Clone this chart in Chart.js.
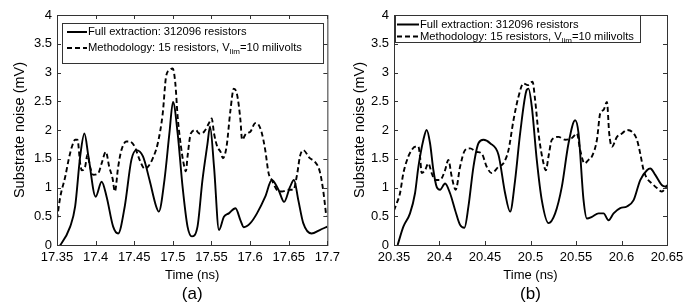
<!DOCTYPE html>
<html>
<head>
<meta charset="utf-8">
<script src="https://cdn.jsdelivr.net/npm/chart.js@4.4.1/dist/chart.umd.min.js"></script>
<style>
  html, body { margin:0; padding:0; background:#fff; }
  #wrap { position:relative; width:690px; height:306px; }
  canvas { position:absolute; top:0; }
  #chartA { left:0; }
  #chartB { left:345px; }
</style>
</head>
<body>
<div id="wrap">
  <canvas id="chartA" width="345" height="306"></canvas>
  <canvas id="chartB" width="345" height="306"></canvas>
</div>
<script>
// tick labels
const yTicks = [0, 0.5, 1, 1.5, 2, 2.5, 3, 3.5, 4];
const xTicksA = [17.35, 17.4, 17.45, 17.5, 17.55, 17.6, 17.65, 17.7];
const xTicksB = [20.35, 20.4, 20.45, 20.5, 20.55, 20.6, 20.65];

// legend text
const labelFull = "Full extraction: 312096 resistors";
const labelMethod = ["Methodology: 15 resistors, V", "lim", "=10 milivolts"];

// (a) full extraction, solid
const timeA_full = [17.35,17.3543,17.3671,17.3735,17.38,17.3855,17.3907,17.40,17.4078,17.4142,17.4227,17.4292,17.4377,17.4463,17.4527,17.4613,17.4698,17.4784,17.4818,17.4891,17.4955,17.5002,17.5062,17.5126,17.519,17.5246,17.5319,17.5383,17.5447,17.5481,17.5533,17.5597,17.5661,17.5725,17.5811,17.5875,17.5918,17.6003,17.6089,17.6196,17.6281,17.6367,17.644,17.6517,17.6568,17.6624,17.6688,17.6795,17.6902,17.70];
const noiseA_full = [-0.05,0.0,0.32,0.67,1.54,1.94,1.54,0.84,1.10,0.84,0.32,0.20,0.67,1.48,1.65,1.54,1.13,0.67,0.58,1.13,1.94,2.49,1.94,1.01,0.32,0.15,0.32,1.13,1.75,2.06,1.36,0.26,0.49,0.55,0.64,0.43,0.31,0.38,0.55,0.84,1.13,0.96,0.75,1.01,1.13,0.78,0.38,0.20,0.26,0.32];

// (a) methodology, dashed
const timeA_meth = [17.35,17.3543,17.3607,17.365,17.3693,17.3735,17.3765,17.38,17.3821,17.3864,17.3894,17.3928,17.3971,17.4035,17.4078,17.4133,17.4176,17.4219,17.4249,17.4292,17.4334,17.4399,17.4441,17.4506,17.457,17.4634,17.4677,17.4741,17.4805,17.4869,17.4912,17.4955,17.4998,17.5032,17.5062,17.5105,17.5139,17.5169,17.519,17.5233,17.5297,17.534,17.5404,17.5468,17.5503,17.5533,17.5575,17.5618,17.5648,17.5695,17.5746,17.5789,17.5832,17.5875,17.5896,17.5948,17.6003,17.6067,17.611,17.6153,17.6196,17.6239,17.6281,17.6346,17.641,17.6495,17.656,17.6611,17.6645,17.6688,17.6773,17.6838,17.6902,17.6945,17.6987];
const noiseA_meth = [0.45,0.84,1.19,1.48,1.71,1.83,1.83,1.42,1.30,1.36,1.57,1.36,1.22,1.25,1.42,1.62,1.36,1.16,0.93,1.36,1.65,1.80,1.80,1.71,1.48,1.33,1.36,1.51,1.77,2.29,2.93,3.04,3.07,2.81,2.23,1.71,1.42,1.28,1.54,1.94,2.0,1.94,1.97,2.12,2.20,1.94,1.71,1.62,1.51,1.71,2.35,2.72,2.61,2.17,1.83,1.94,1.97,2.12,2.09,1.94,1.65,1.25,1.13,0.96,0.93,0.96,0.96,1.25,1.54,1.65,1.51,1.45,1.28,0.96,0.49];

// (b) full extraction, solid
const timeB_full = [20.354,20.3603,20.3676,20.3731,20.3768,20.3823,20.3859,20.3896,20.3933,20.3969,20.4006,20.4061,20.4116,20.4171,20.4226,20.4274,20.4318,20.4373,20.4428,20.4483,20.4556,20.4648,20.4721,20.4776,20.4831,20.4886,20.4959,20.4978,20.5014,20.5069,20.5124,20.5198,20.5271,20.5344,20.5418,20.5491,20.5528,20.5583,20.562,20.5675,20.5748,20.5803,20.5858,20.5913,20.5986,20.606,20.6133,20.6206,20.628,20.6316,20.6371,20.6445,20.65];
const noiseB_full = [0.0,0.32,0.55,0.90,1.36,1.83,2.0,1.77,1.30,1.01,0.96,1.07,0.90,0.61,0.35,0.30,0.67,1.36,1.77,1.83,1.77,1.57,0.90,0.58,1.13,1.94,2.70,2.72,2.41,1.48,0.78,0.38,0.55,1.01,1.77,2.17,1.94,0.78,0.46,0.49,0.55,0.55,0.43,0.55,0.64,0.67,0.78,1.13,1.30,1.33,1.22,1.04,1.01];

// (b) methodology, dashed
const timeB_meth = [20.35,20.3529,20.3566,20.3603,20.3658,20.3694,20.3731,20.3768,20.3786,20.3804,20.3841,20.3878,20.3914,20.3951,20.4006,20.4061,20.4098,20.4134,20.4178,20.4226,20.4281,20.4336,20.4409,20.4464,20.4519,20.4574,20.4648,20.4703,20.4758,20.4813,20.4868,20.4923,20.497,20.5022,20.5051,20.5088,20.5143,20.5169,20.5198,20.5235,20.5308,20.5381,20.5455,20.551,20.5546,20.5594,20.5638,20.5675,20.573,20.5766,20.5803,20.584,20.5865,20.5895,20.595,20.6005,20.606,20.6115,20.617,20.6206,20.6243,20.628,20.6335,20.639,20.6445,20.65];
const noiseB_meth = [0.60,0.72,0.90,1.25,1.54,1.65,1.71,1.71,1.54,1.25,1.30,1.42,1.25,1.13,1.13,1.30,1.48,1.19,0.96,1.36,1.65,1.68,1.62,1.59,1.36,1.25,1.36,1.42,1.65,2.17,2.58,2.81,2.78,2.84,2.52,1.94,1.42,1.30,1.54,1.83,1.88,1.83,1.86,1.94,1.65,1.42,1.48,1.54,1.83,2.29,2.35,2.49,1.94,1.71,1.88,1.94,2.0,1.97,1.83,1.59,1.30,1.16,1.07,0.99,0.93,1.04];

const FONT = '"Liberation Sans", Arial, Helvetica, sans-serif';
const toPts = (ts, vs) => ts.map((t, i) => ({ x: t, y: vs[i] }));

function drawLegend(ctx, lg){
  ctx.save();
  ctx.fillStyle = "#fff";
  ctx.fillRect(lg.x, lg.y, lg.w, lg.h);
  ctx.strokeStyle = "#333";
  ctx.lineWidth = 1;
  ctx.strokeRect(lg.x + 0.5, lg.y + 0.5, lg.w, lg.h);
  ctx.strokeStyle = "#000";
  ctx.lineWidth = 2;
  // solid sample
  ctx.beginPath(); ctx.moveTo(lg.x1, lg.r1); ctx.lineTo(lg.x2, lg.r1); ctx.stroke();
  // dashed sample
  ctx.setLineDash([5, 3]);
  ctx.beginPath(); ctx.moveTo(lg.x1, lg.r2); ctx.lineTo(lg.x2, lg.r2); ctx.stroke();
  ctx.setLineDash([]);
  ctx.fillStyle = "#000";
  ctx.font = "11.2px " + FONT;
  ctx.textBaseline = "middle";
  ctx.textAlign = "left";
  ctx.fillText(labelFull, lg.x2 + 1, lg.r1);
  let x = lg.x2 + 1;
  ctx.fillText(labelMethod[0], x, lg.r2);
  x += ctx.measureText(labelMethod[0]).width;
  ctx.font = "8px " + FONT;
  ctx.fillText(labelMethod[1], x, lg.r2 + 4);
  x += ctx.measureText(labelMethod[1]).width;
  ctx.font = "11.2px " + FONT;
  ctx.fillText(labelMethod[2], x, lg.r2);
  ctx.restore();
}

function framePlugin(xTicks, legend, letter, yTitleX){
  return {
    id: "frame",
    afterDatasetsDraw(chart){
      const { ctx, chartArea: a, scales } = chart;
      ctx.save();
      ctx.strokeStyle = "#333";
      ctx.lineWidth = 1;
      ctx.strokeRect(a.left + 0.5, a.top + 0.5, a.right - a.left, a.bottom - a.top);
      ctx.beginPath();
      xTicks.forEach(v => {
        const px = Math.round(scales.x.getPixelForValue(v)) + 0.5;
        ctx.moveTo(px, a.bottom); ctx.lineTo(px, a.bottom - 4);
        ctx.moveTo(px, a.top); ctx.lineTo(px, a.top + 4);
      });
      yTicks.forEach(v => {
        const py = Math.round(scales.y.getPixelForValue(v)) + 0.5;
        ctx.moveTo(a.left, py); ctx.lineTo(a.left + 4, py);
        ctx.moveTo(a.right, py); ctx.lineTo(a.right - 4, py);
      });
      ctx.stroke();
      ctx.restore();

      drawLegend(ctx, legend);

      ctx.save();
      ctx.fillStyle = "#000";
      ctx.textAlign = "center";
      ctx.textBaseline = "middle";
      const cx = (a.left + a.right) / 2;
      ctx.font = "13px " + FONT;
      ctx.fillText("Time (ns)", cx, 275);
      ctx.font = "17px " + FONT;
      ctx.fillText(letter, cx, 294);
      ctx.translate(yTitleX, (a.top + a.bottom) / 2);
      ctx.rotate(-Math.PI / 2);
      ctx.font = "14.5px " + FONT;
      ctx.fillText("Substrate noise (mV)", 0, 0);
      ctx.restore();
    }
  };
}

function makeChart(id, xTicks, full, meth, yWidth, padRight, legend, letter, yTitleX){
  return new Chart(document.getElementById(id), {
    type: "scatter",
    data: {
      datasets: [
        { data: full, showLine: true, borderColor: "#000", borderWidth: 1.9, pointRadius: 0, cubicInterpolationMode: "monotone" },
        { data: meth, showLine: true, borderColor: "#000", borderWidth: 1.9, borderDash: [5, 3], pointRadius: 0, cubicInterpolationMode: "monotone" }
      ]
    },
    options: {
      responsive: false,
      animation: false,
      layout: { padding: { top: 15, right: padRight, left: 0, bottom: 0 } },
      plugins: { legend: { display: false }, tooltip: { enabled: false } },
      scales: {
        x: {
          type: "linear",
          min: xTicks[0], max: xTicks[xTicks.length - 1],
          afterBuildTicks: s => { s.ticks = xTicks.map(v => ({ value: v })); },
          afterFit: s => { s.height = 61; },
          ticks: { callback: v => String(v), color: "#000", font: { family: FONT, size: 13 }, maxRotation: 0, autoSkip: false, padding: 5 },
          grid: { display: false, drawTicks: false },
          border: { display: false }
        },
        y: {
          min: 0, max: 4,
          afterBuildTicks: s => { s.ticks = yTicks.map(v => ({ value: v })); },
          afterFit: s => { s.width = yWidth; },
          ticks: { callback: v => String(v), color: "#000", font: { family: FONT, size: 13 }, padding: 5 },
          grid: { display: false, drawTicks: false },
          border: { display: false }
        }
      }
    },
    plugins: [framePlugin(xTicks, legend, letter, yTitleX)]
  });
}

makeChart("chartA", xTicksA, toPts(timeA_full, noiseA_full), toPts(timeA_meth, noiseA_meth), 57, 15,
  { x: 62, y: 23, w: 261, h: 40, x1: 67, x2: 87, r1: 32, r2: 48 }, "(a)", 20);
makeChart("chartB", xTicksB, toPts(timeB_full, noiseB_full), toPts(timeB_meth, noiseB_meth), 49, 23,
  { x: 50, y: 15, w: 245, h: 27, x1: 52, x2: 74, r1: 24.5, r2: 36.5 }, "(b)", 15);
</script>
</body>
</html>
